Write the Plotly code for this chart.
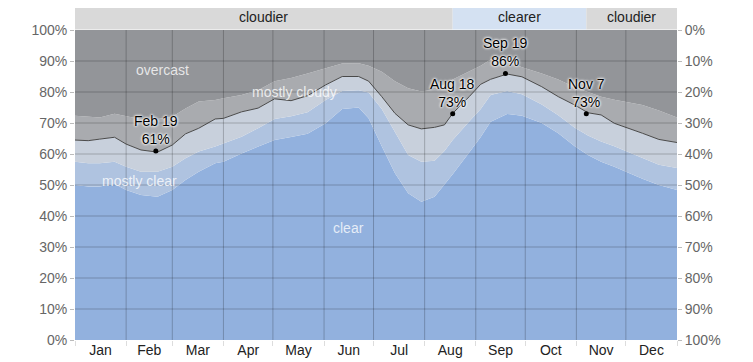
import plotly.graph_objects as go

# Day of year (0 = Jan 1)
days = [0, 8, 15, 24, 31, 40, 50, 59, 67, 75, 85, 90, 101, 111, 121, 131, 141, 152, 162, 172,
        178, 186, 194, 202, 210, 218, 224, 229, 239, 246, 252, 262, 271, 283, 293, 303, 311,
        319, 327, 336, 344, 354, 365]

# Cumulative percentages (top edge of each band)
clear_top = [50, 49.5, 49.5, 50.3, 48.4, 46.8, 46.2, 48.4, 51.6, 54.3, 57, 57.5, 60.2, 62.4,
             64.5, 65.5, 66.5, 69.9, 74.5, 75, 71.5, 62.5, 53.8, 47.3, 44.6, 46.2, 50, 53.5,
             60.5, 65.5, 70.4, 72.9, 72.3, 70, 66.7, 62.5, 59.7, 57.5, 55.9, 53.8, 52, 50, 48.4]
mostly_clear_top = [57.5, 57, 57, 57.5, 55.9, 54.3, 54.3, 55.9, 58.6, 60.8, 62.4, 63.4, 65.6,
                    68.3, 71.3, 72.2, 73.5, 77.4, 80.3, 80.6, 79.8, 74.5, 67, 59.7, 57.5, 57.8,
                    61, 64.5, 70.5, 74.5, 79, 80.3, 79.3, 76, 72.5, 68.5, 66, 64, 62.5, 60.5,
                    58.5, 56.5, 55.5]
partly_cloudy_top = [64.5, 64.3, 64.8, 65.4, 63.2, 61.3, 60.6, 62.9, 66.5, 68.3, 71.3, 71.5,
                     73.6, 74.8, 77.8, 77.2, 78.8, 82.3, 85, 85, 83.5, 78.5, 73.1, 69.4, 68.1,
                     68.6, 69.4, 73.1, 78.5, 82.5, 84.1, 85.8, 84.9, 81.7, 78.5, 75.8, 73.3,
                     72.6, 69.9, 68.3, 66.7, 64.7, 63.7]
mostly_cloudy_top = [72.3, 72, 71.8, 73, 72.3, 71.2, 71.3, 72, 74.7, 76.9, 77.4, 78, 79, 80.6,
                     83.5, 84.5, 86, 87.6, 89.2, 89.3, 88.5, 86.5, 83.5, 81.2, 80.2, 80.8, 82.3,
                     84, 86.8, 88.5, 90.5, 90, 88, 86, 84, 81.5, 80, 78.5, 77.5, 76.5, 75.8,
                     74, 71.8]
overcast_top = [100] * len(days)

month_names = ["Jan", "Feb", "Mar", "Apr", "May", "Jun", "Jul", "Aug", "Sep", "Oct", "Nov", "Dec"]
month_starts = [0, 31, 59, 90, 120, 151, 181, 212, 243, 273, 304, 334, 365]
pct_ticks = [0, 10, 20, 30, 40, 50, 60, 70, 80, 90, 100]

annot_days = [49, 229, 261, 310]
annot_vals = [61, 73, 86, 73]
annot_labels = ["Feb 19", "Aug 18", "Sep 19", "Nov 7"]

band_starts = [0, 229, 310]
band_ends = [229, 310, 365]
band_labels = ["cloudier", "clearer", "cloudier"]
band_colors = ["#d9d9d9", "#d4e1f2", "#d9d9d9"]

region_labels = ["overcast", "mostly cloudy", "mostly clear", "clear"]
region_days = [53, 133, 39, 166]
region_vals = [87, 80, 51.2, 36]

colors = ["#92b1de", "#afc3e0", "#c8d0dc", "#a9abaf", "#939599"]

fig = go.Figure()
layers = [clear_top, mostly_clear_top, partly_cloudy_top, mostly_cloudy_top, overcast_top]
for i, (vals, col) in enumerate(zip(layers, colors)):
    fig.add_trace(go.Scatter(x=days, y=vals, mode="lines", line=dict(width=0, color=col),
                             fill="tozeroy" if i == 0 else "tonexty", fillcolor=col,
                             hoverinfo="skip", showlegend=False))

fig.add_trace(go.Scatter(x=days, y=partly_cloudy_top, mode="lines",
                         line=dict(width=1, color="#4a4a4a"), hoverinfo="skip", showlegend=False))
fig.add_trace(go.Scatter(x=annot_days, y=annot_vals, mode="markers",
                         marker=dict(size=5, color="black"), hoverinfo="skip", showlegend=False))
fig.add_trace(go.Scatter(x=[0], y=[0], yaxis="y2", mode="markers", marker=dict(opacity=0),
                         hoverinfo="skip", showlegend=False))

shapes = []
grid_col = "rgba(0,0,0,0.22)"
for p in pct_ticks[1:-1]:
    shapes.append(dict(type="line", xref="x", yref="y", x0=0, x1=365, y0=p, y1=p,
                       line=dict(color=grid_col, width=1), layer="above"))
for d in month_starts[1:-1]:
    shapes.append(dict(type="line", xref="x", yref="y", x0=d, x1=d, y0=0, y1=100,
                       line=dict(color=grid_col, width=1), layer="above"))
for s, e, c in zip(band_starts, band_ends, band_colors):
    shapes.append(dict(type="rect", xref="x", yref="paper", x0=s, x1=e, y0=1.002, y1=1.08,
                       fillcolor=c, line=dict(width=0), layer="above"))

annotations = []
for s, e, t in zip(band_starts, band_ends, band_labels):
    annotations.append(dict(x=(s + e) / 2, y=1.041, xref="x", yref="paper", text=t,
                            showarrow=False, font=dict(size=14, color="#222"),
                            xanchor="center", yanchor="middle"))
halo = "white 0px 0px 2px, white 0px 0px 3px, white 0px 0px 3px"
for d, v, t in zip(annot_days, annot_vals, annot_labels):
    annotations.append(dict(x=d, y=v, xref="x", yref="y", text=f"{t}<br>{v}%",
                            showarrow=False, yshift=2, yanchor="bottom", xanchor="center",
                            font=dict(size=14, color="black", shadow=halo)))
for t, d, v in zip(region_labels, region_days, region_vals):
    annotations.append(dict(x=d, y=v, xref="x", yref="y", text=t, showarrow=False,
                            font=dict(size=14, color="rgba(255,255,255,0.78)"),
                            xanchor="center", yanchor="middle"))

mid_month = [(a + b) / 2 for a, b in zip(month_starts[:-1], month_starts[1:])]
pct_text = [f"{p}%" for p in pct_ticks]

# The page body has an 8px margin, so the figure is 8px smaller and offset accordingly.
fig.update_layout(
    width=745, height=354,
    margin=dict(l=67, r=76, t=22, b=22, autoexpand=False),
    paper_bgcolor="white", plot_bgcolor="white",
    font=dict(family="Liberation Sans, Arial, sans-serif"),
    xaxis=dict(range=[0, 365], tickvals=mid_month, ticktext=month_names, ticks="",
               showgrid=False, zeroline=False, showline=False, automargin=False,
               tickfont=dict(size=14, color="#222"),
               minor=dict(tickvals=month_starts, ticks="outside", ticklen=5,
                          tickcolor="#dddddd", showgrid=False)),
    yaxis=dict(range=[0, 100], tickvals=pct_ticks, ticktext=pct_text, ticks="outside",
               ticklen=4, tickcolor="#bbbbbb", showgrid=False, zeroline=False,
               automargin=False, tickfont=dict(size=14, color="#666")),
    yaxis2=dict(range=[100, 0], tickvals=pct_ticks, ticktext=pct_text, ticks="outside",
                ticklen=4, tickcolor="#bbbbbb", overlaying="y", side="right",
                showgrid=False, zeroline=False, automargin=False,
                tickfont=dict(size=14, color="#666")),
    shapes=shapes, annotations=annotations,
)

fig.write_html("out.html")
